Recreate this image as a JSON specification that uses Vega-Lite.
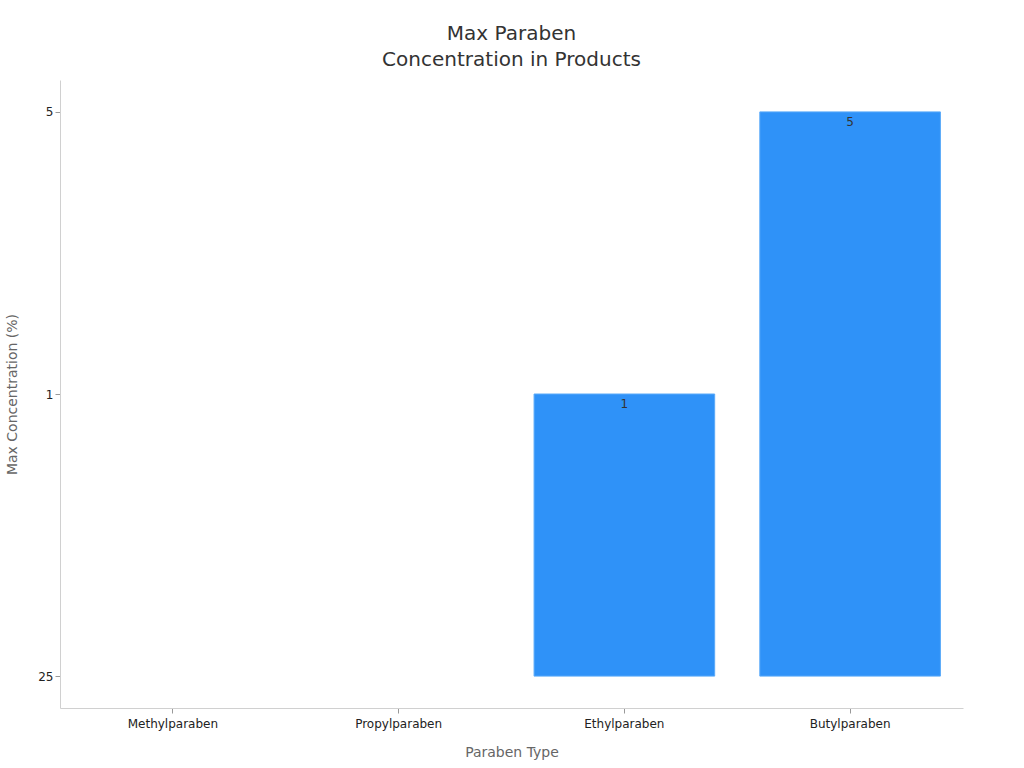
{
  "$schema": "https://vega.github.io/schema/vega-lite/v6.json",
  "width": 903,
  "height": 628,
  "autosize": {"type": "none"},
  "padding": {"left": 60, "top": 80, "right": 61, "bottom": 60},
  "background": "white",
  "config": {
    "view": {"stroke": null},
    "font": "DejaVu Sans",
    "axis": {
      "domainColor": "#d0d0d0",
      "tickColor": "#999999",
      "labelColor": "#222222",
      "labelFontSize": 12,
      "titleColor": "#666666",
      "titleFontSize": 14,
      "titleFontWeight": "normal",
      "grid": false
    }
  },
  "title": {
    "text": ["Max Paraben", "Concentration in Products"],
    "fontSize": 20,
    "fontWeight": "normal",
    "color": "#333333",
    "anchor": "middle",
    "lineHeight": 26,
    "offset": 10
  },
  "data": {
    "values": [
      {"paraben": "Methylparaben", "conc": null},
      {"paraben": "Propylparaben", "conc": null},
      {"paraben": "Ethylparaben", "conc": "1"},
      {"paraben": "Butylparaben", "conc": "5"}
    ]
  },
  "encoding": {
    "x": {
      "field": "paraben",
      "type": "nominal",
      "sort": null,
      "title": "Paraben Type",
      "scale": {
        "domain": ["Methylparaben", "Propylparaben", "Ethylparaben", "Butylparaben"],
        "paddingInner": 0.2,
        "paddingOuter": 0.1
      },
      "axis": {"labelAngle": 0, "labelPadding": 5, "titlePadding": 16}
    },
    "y": {
      "field": "conc",
      "type": "nominal",
      "title": "Max Concentration (%)",
      "scale": {"type": "point", "domain": ["25", "1", "5"], "reverse": true, "padding": 0.113},
      "axis": {"titlePadding": 18}
    }
  },
  "layer": [
    {
      "transform": [{"filter": "isValid(datum.conc)"}],
      "mark": {"type": "bar", "color": "#2f92f8", "stroke": "#5aaaf9", "strokeWidth": 1},
      "encoding": {"y2": {"datum": "25"}}
    },
    {
      "transform": [{"filter": "isValid(datum.conc)"}],
      "mark": {"type": "text", "baseline": "middle", "dy": 10, "fontSize": 12, "color": "#333333"},
      "encoding": {"text": {"field": "conc", "type": "nominal"}}
    }
  ]
}
